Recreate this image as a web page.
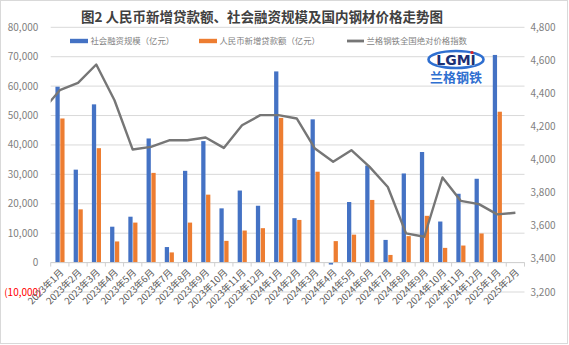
<!DOCTYPE html>
<html>
<head>
<meta charset="utf-8">
<script src="https://cdn.jsdelivr.net/npm/d3@7"></script>
<style>
  body { margin: 0; background: #fff; }
  text { font-family: "Noto Sans CJK SC", "Noto Sans", sans-serif; }
</style>
</head>
<body>
<script>
// Data (亿元 / 指数)
let months = [
  "2023年1月", "2023年2月", "2023年3月", "2023年4月", "2023年5月", "2023年6月",
  "2023年7月", "2023年8月", "2023年9月", "2023年10月", "2023年11月", "2023年12月",
  "2024年1月", "2024年2月", "2024年3月", "2024年4月", "2024年5月", "2024年6月",
  "2024年7月", "2024年8月", "2024年9月", "2024年10月", "2024年11月", "2024年12月",
  "2025年1月", "2025年2月",
];
let socialFinancing = [
  59800, 31600, 53800, 12200, 15600, 42200, 5282, 31200, 41300, 18441, 24500, 19326,
  65000, 15100, 48700, -658, 20600, 33000, 7708, 30300, 37600, 13963, 23400, 28500,
  70600, null,
];
let newLoans = [
  49000, 18100, 38900, 7188, 13600, 30500, 3459, 13600, 23100, 7384, 10900, 11700,
  49200, 14500, 30900, 7300, 9500, 21300, 2600, 9000, 15900, 5000, 5800, 9900,
  51300, null,
];
let steelIndex = [
  4420, 4464, 4575, 4359, 4061, 4077, 4117, 4117, 4134, 4071, 4208, 4269,
  4269, 4249, 4067, 3987, 4057, 3956, 3835, 3554, 3534, 3892, 3751, 3731,
  3669, 3679,
];
let steelIndexPrev = 4290; // 2022年12月, only the stub at the left edge is visible
let leftTicks = [-10000, 0, 10000, 20000, 30000, 40000, 50000, 60000, 70000, 80000];
let rightTicks = [3200, 3400, 3600, 3800, 4000, 4200, 4400, 4600, 4800];
let seriesNames = ["社会融资规模（亿元）", "人民币新增贷款额（亿元）", "兰格钢铁全国绝对价格指数"];
let colors = ["#4472C4", "#ED7D31", "#767676"];

let width = 569;
let height = 345;
let margin = { top: 27.3, bottom: 53, left: 50.7, right: 44.5 };

let svg = d3
  .select("body")
  .append("svg")
  .attr("width", width)
  .attr("height", height)
  .style("display", "block");

// outer frame
svg
  .append("rect")
  .attr("x", 0.5)
  .attr("y", 0.5)
  .attr("width", width - 2)
  .attr("height", height - 2)
  .attr("fill", "#fff")
  .attr("stroke", "#d9d9d9");

// Scales
let xScale = d3
  .scaleBand()
  .domain(months)
  .range([margin.left, width - margin.right]);

let bw = xScale.bandwidth();

let xSub = d3
  .scaleBand()
  .domain([0, 1])
  .range([bw * 0.26, bw * 0.76])
  .paddingInner(0.12);

let yLeft = d3
  .scaleLinear()
  .domain([-10000, 80000])
  .range([height - margin.bottom, margin.top]);

let yRight = d3
  .scaleLinear()
  .domain([3200, 4800])
  .range([height - margin.bottom, margin.top]);

let x0 = margin.left;
let x1 = width - margin.right;

// Gridlines
svg
  .append("g")
  .selectAll("line")
  .data(leftTicks)
  .join("line")
  .attr("x1", x0)
  .attr("x2", x1)
  .attr("y1", (d) => yLeft(d))
  .attr("y2", (d) => yLeft(d))
  .attr("stroke", "#d9d9d9")
  .attr("stroke-width", 1);

// Left axis labels
svg
  .append("g")
  .selectAll("text")
  .data(leftTicks)
  .join("text")
  .attr("x", (d) => (d < 0 ? 41.5 : 38.3))
  .attr("y", (d) => yLeft(d) + 3.5)
  .attr("text-anchor", "end")
  .style("font-size", "10px")
  .attr("fill", (d) => (d < 0 ? "#ff0000" : "#7f7f7f"))
  .text((d) => (d < 0 ? "(" + d3.format(",")(-d) + ")" : d3.format(",")(d)));

// Right axis labels
svg
  .append("g")
  .selectAll("text")
  .data(rightTicks)
  .join("text")
  .attr("x", 530.5)
  .attr("y", (d) => yRight(d) + 3.5)
  .attr("text-anchor", "start")
  .style("font-size", "10px")
  .attr("fill", "#7f7f7f")
  .text((d) => d3.format(",")(d));

// Bars
let bars = svg
  .selectAll(".month")
  .data(months)
  .join("g")
  .attr("class", "month")
  .attr("transform", (d) => `translate(${xScale(d)}, 0)`);

[socialFinancing, newLoans].forEach((values, s) => {
  bars
    .filter((d, i) => values[i] != null)
    .append("rect")
    .attr("x", xSub(s))
    .attr("width", xSub.bandwidth())
    .attr("y", (d) => yLeft(Math.max(0, values[months.indexOf(d)])))
    .attr("height", (d) => Math.abs(yLeft(values[months.indexOf(d)]) - yLeft(0)))
    .attr("fill", colors[s]);
});

// X axis line and ticks at category boundaries
svg
  .append("line")
  .attr("x1", x0)
  .attr("x2", x1)
  .attr("y1", yLeft(0))
  .attr("y2", yLeft(0))
  .attr("stroke", "#d0d0d0")
  .attr("stroke-width", 1);

svg
  .append("g")
  .selectAll("line")
  .data(months.concat(["end"]))
  .join("line")
  .attr("x1", (d) => (d === "end" ? x1 : xScale(d)))
  .attr("x2", (d) => (d === "end" ? x1 : xScale(d)))
  .attr("y1", yLeft(0))
  .attr("y2", yLeft(0) + 4)
  .attr("stroke", "#d0d0d0");

svg
  .append("g")
  .selectAll("text")
  .data(months)
  .join("text")
  .attr(
    "transform",
    (d) => `translate(${xScale(d) + bw / 2 + 2}, ${yLeft(0) + 8}) rotate(-45)`,
  )
  .attr("text-anchor", "end")
  .attr("dy", "0.35em")
  .style("font-size", "9.5px")
  .attr("fill", "#595959")
  .text((d) => d);

// Steel price line on the right axis (clipped to plot area)
svg
  .append("clipPath")
  .attr("id", "plot-clip")
  .append("rect")
  .attr("x", x0)
  .attr("y", 0)
  .attr("width", x1 - x0)
  .attr("height", height);

let linePoints = [[xScale(months[0]) + bw / 2 - xScale.step(), steelIndexPrev]].concat(
  months.map((m, i) => [xScale(m) + bw / 2, steelIndex[i]]),
);

svg
  .append("path")
  .datum(linePoints)
  .attr("clip-path", "url(#plot-clip)")
  .attr("fill", "none")
  .attr("stroke", colors[2])
  .attr("stroke-width", 2.4)
  .attr("stroke-linejoin", "round")
  .attr(
    "d",
    d3
      .line()
      .x((d) => d[0])
      .y((d) => yRight(d[1])),
  );

// Title
svg
  .append("text")
  .attr("x", 262)
  .attr("y", 21.5)
  .attr("text-anchor", "middle")
  .style("font-size", "13.5px")
  .style("font-weight", "bold")
  .attr("fill", "#404040")
  .text("图2 人民币新增贷款额、社会融资规模及国内钢材价格走势图");

// Legend
let legendItems = [
  { x: 70, w: 18, label: seriesNames[0], color: colors[0], type: "rect" },
  { x: 199, w: 18, label: seriesNames[1], color: colors[1], type: "rect" },
  { x: 347, w: 17, label: seriesNames[2], color: colors[2], type: "line" },
];

let legend = svg
  .selectAll(".legend")
  .data(legendItems)
  .join("g")
  .attr("class", "legend")
  .attr("transform", (d) => `translate(${d.x}, 41)`);

legend
  .append("rect")
  .attr("x", 0)
  .attr("y", (d) => (d.type === "rect" ? -2.2 : -1.4))
  .attr("width", (d) => d.w)
  .attr("height", (d) => (d.type === "rect" ? 4.4 : 2.8))
  .attr("fill", (d) => d.color);

legend
  .append("text")
  .attr("x", (d) => d.w + 2.5)
  .attr("y", 3)
  .style("font-size", "8.4px")
  .attr("fill", "#7f7f7f")
  .text((d) => d.label);

// LGMI logo
let logo = svg.append("g").attr("transform", "translate(456, 59.5)");

logo
  .append("ellipse")
  .attr("rx", 27.5)
  .attr("ry", 8.5)
  .attr("fill", "#fff")
  .attr("stroke", "#2f6fd0")
  .attr("stroke-width", 2.6);

logo
  .append("text")
  .attr("y", 5)
  .attr("text-anchor", "middle")
  .style("font-size", "14px")
  .style("font-weight", "bold")
  .style("font-family", "'DejaVu Sans', sans-serif")
  .attr("fill", "#1b2f73")
  .attr("stroke", "#fff")
  .attr("stroke-width", 0.6)
  .attr("paint-order", "stroke")
  .text("LGMI");

logo
  .append("circle")
  .attr("cx", 16)
  .attr("cy", -7)
  .attr("r", 1.6)
  .attr("fill", "#e02020");

logo
  .append("text")
  .attr("y", 22.5)
  .attr("text-anchor", "middle")
  .style("font-size", "13px")
  .style("font-weight", "bold")
  .attr("fill", "#2f6fd0")
  .text("兰格钢铁");
</script>
</body>
</html>
